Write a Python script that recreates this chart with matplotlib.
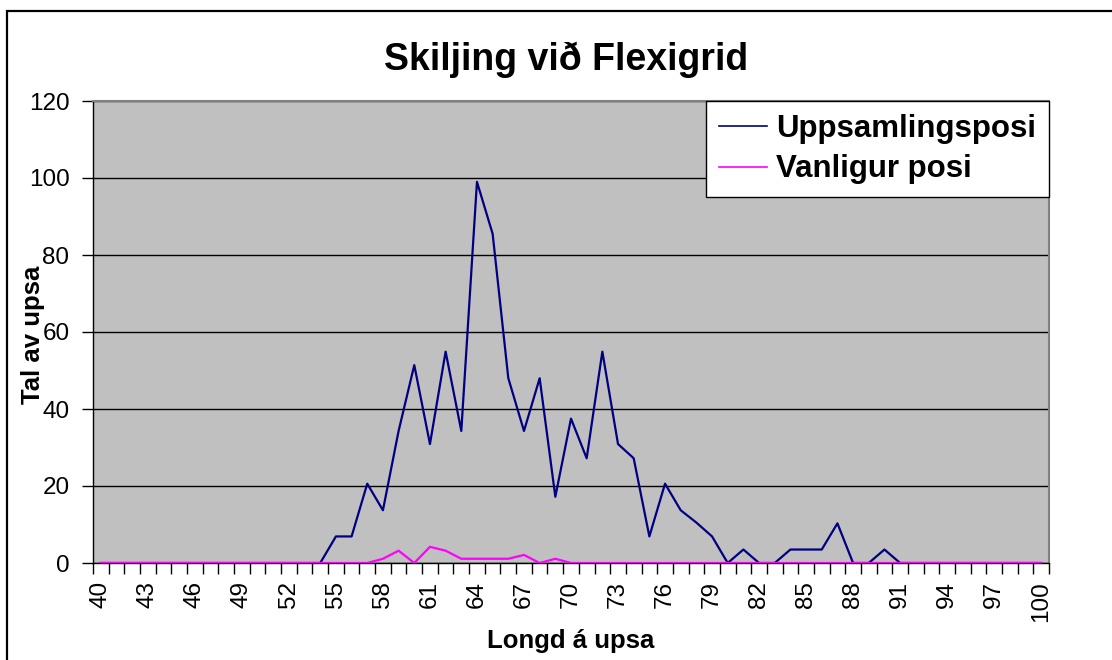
import numpy as np
import matplotlib
matplotlib.use("Agg")
import matplotlib.pyplot as plt
from matplotlib.patches import Rectangle

plt.rcParams['font.family'] = ['Liberation Sans', 'DejaVu Sans']

# Lengths 40..100 (category axis)
lengths = list(range(40, 101))

# Uppsamlingsposi (collecting bag)
uppsamling = ([0.0] * 15 +                       # 40-54
              [6.9, 6.9, 20.6, 13.7, 34.3,        # 55-59
               51.4, 30.9, 54.9, 34.3, 99.0,      # 60-64
               85.5, 48.0, 34.3, 48.0, 17.2,      # 65-69
               37.5, 27.2, 54.9, 30.9, 27.2,      # 70-74
               6.9, 20.6, 13.7, 10.5, 6.9,        # 75-79
               0.0, 3.5, 0.0, 0.0, 3.5,           # 80-84
               3.5, 3.5, 10.3, 0.0, 0.0,          # 85-89
               3.5] +                             # 90
              [0.0] * 10)                         # 91-100

# Vanligur posi (ordinary bag)
vanligur = ([0.0] * 18 +                          # 40-57
            [1.1, 3.2, 0.0, 4.2, 3.2,             # 58-62
             1.1, 1.1, 1.1, 1.1, 2.1,             # 63-67
             0.0, 1.1] +                          # 68-69
            [0.0] * 31)                           # 70-100

x = np.arange(len(lengths))

fig = plt.figure(figsize=(11.12, 6.6), dpi=100)
ax = fig.add_axes([93 / 1112, 1 - 563 / 660, 956 / 1112, 462 / 660])
ax.set_facecolor('#C0C0C0')

ax.plot(x, uppsamling, color='#000080', lw=1.6, label='Uppsamlingsposi', zorder=3)
ax.plot(x, vanligur, color='#FF00FF', lw=1.6, label='Vanligur posi', zorder=3)

ax.set_xlim(-0.5, len(lengths) - 0.5)
ax.set_ylim(0, 120)
ax.set_yticks(range(0, 121, 20))
ax.yaxis.grid(True, color='black', lw=1)
ax.set_axisbelow(True)

# labels every 3rd category, tick marks at every category border
ax.set_xticks(x[::3])
ax.set_xticklabels([str(v) for v in lengths[::3]], rotation=90)
ax.set_xticks(np.arange(-0.5, len(lengths), 1), minor=True)
ax.tick_params(axis='x', which='major', length=0, pad=13, labelsize=17.5)
ax.tick_params(axis='x', which='minor', length=8, width=1, direction='out')
ax.tick_params(axis='y', length=8, width=1, pad=9, labelsize=17.5)

for s in ['left', 'bottom']:
    ax.spines[s].set_color('black')
    ax.spines[s].set_linewidth(1)
for s in ['top', 'right']:
    ax.spines[s].set_color('#808080')
    ax.spines[s].set_linewidth(1.5)

leg = ax.legend(loc='upper right', bbox_to_anchor=(1.0, 1.0), borderaxespad=0,
                fancybox=False, framealpha=1, edgecolor='black',
                prop={'weight': 'bold', 'size': 22.5}, handlelength=1.55,
                handletextpad=0.3, borderpad=0.4, labelspacing=0.35)
leg.get_frame().set_linewidth(1)
for h in leg.get_lines():
    h.set_linewidth(1.2)

fig.text(566 / 1112, 1 - 60 / 660, 'Skiljing við Flexigrid', ha='center', va='center',
         fontsize=27, fontweight='bold')
fig.text(33 / 1112, 1 - 335 / 660, 'Tal av upsa', ha='center', va='center',
         rotation=90, fontsize=18.5, fontweight='bold')
fig.text(571 / 1112, 1 - 641 / 660, 'Longd á upsa', ha='center', va='center',
         fontsize=18.5, fontweight='bold')

# outer chart-area border (runs off the right and bottom edges)
fig.patches.append(Rectangle((7 / 1112, -0.1), 1.2, 1 - 11 / 660 + 0.1,
                             transform=fig.transFigure, fill=False,
                             edgecolor='black', lw=1.6))

fig.savefig('out.png', dpi=100)
